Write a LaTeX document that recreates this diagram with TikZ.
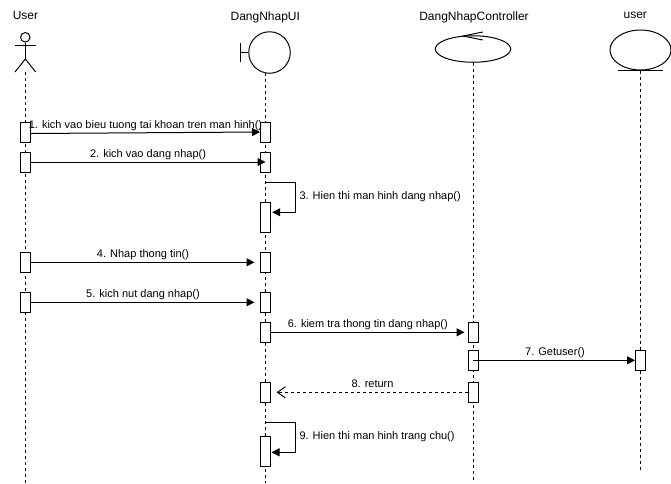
\documentclass[tikz,border=0pt]{standalone}
\usepackage{fontspec}
\setmainfont{Liberation Sans}
\usetikzlibrary{arrows.meta,shapes.geometric}
\begin{document}
\begin{tikzpicture}[x=1pt, y=-1pt, line width=1pt,
    bar/.style={draw, fill=white, rectangle, minimum width=10pt, minimum height=20pt, inner sep=0pt},
    barlong/.style={bar, minimum height=30pt},
    lifeline/.style={dashed, dash pattern=on 3pt off 3pt},
    msg/.style={-{Triangle[length=8pt, width=8pt]}},
    reply/.style={dashed, dash pattern=on 3pt off 3pt, -{Straight Barb[length=8pt, width=11pt]}},
    lbl/.style={font=\fontsize{11}{13}\selectfont, inner sep=0pt, text height=8pt, text depth=2pt},
    title/.style={lbl, font=\fontsize{12}{14}\selectfont},
    ]
    \useasboundingbox (0, 0) rectangle (671, 483);

    % Tieu de
    \node[title] (tUser) at (25.5, 16.5) {User};
    \node[title] (tUI) at (265.3, 17) {DangNhapUI};
    \node[title] (tCtrl) at (474, 17) {DangNhapController};
    \node[title] (tData) at (635.3, 15.5) {user};

    % Lifeline
    \coordinate (endUser) at (25, 483);
    \coordinate (endUI) at (265.5, 483);
    \coordinate (endCtrl) at (473, 480);
    \coordinate (endData) at (640.5, 470);

    % Actor
    \node[draw, circle, minimum size=9.5pt, inner sep=0pt] (head) at (25.3, 37.3) {};
    \coordinate (hip) at (25.3, 59);
    \coordinate (legL) at (15, 72);
    \coordinate (legR) at (35.7, 72);
    \coordinate (armL) at (15, 45.7);
    \coordinate (armR) at (35.7, 45.7);
    \draw (head.south) -- (hip);
    \draw (armL) -- (armR);
    \draw (legL) -- (hip) -- (legR);

    % Boundary
    \node[draw, circle, minimum size=41.5pt, inner sep=0pt] (ui) at (269.5, 52.5) {};
    \coordinate (barT) at (240.3, 42.7);
    \coordinate (barB) at (240.3, 62.3);
    \coordinate (barM) at (240.3, 52.5);
    \draw (barT) -- (barB);
    \draw (barM) -- (ui.west);

    % Control
    \node[draw, ellipse, minimum width=75.5pt, minimum height=26.5pt, inner sep=0pt] (ctrl) at (473, 49) {};
    \coordinate (tipC) at (463.3, 36);
    \coordinate (armA) at (482.7, 32);
    \coordinate (armB) at (482.7, 40);
    \draw (armA) -- (tipC) -- (armB);

    % Entity
    \node[draw, ellipse, minimum width=61pt, minimum height=40pt, inner sep=0pt] (data) at (640.5, 50) {};
    \coordinate (lineL) at (618.3, 70.3);
    \coordinate (lineR) at (662.7, 70.3);
    \draw (lineL) -- (lineR);

    \coordinate (topUser) at (25, 72);
    \coordinate (topUI) at (265.5, 73);
    \draw[lifeline] (topUser) -- (endUser);
    \draw[lifeline] (topUI) -- (endUI);
    \draw[lifeline] (ctrl.south) -- (endCtrl);
    \draw[lifeline] (data.south) -- (endData);

    % Kich hoat
    \node[bar] (u1) at (25.5, 132) {};
    \node[bar] (i1) at (265.5, 132) {};
    \node[bar] (u2) at (25.5, 162) {};
    \node[bar] (i2) at (265.5, 162) {};
    \node[barlong] (i3) at (265.5, 217.3) {};
    \node[bar] (u4) at (25.5, 262.3) {};
    \node[bar] (i4) at (265.5, 262.3) {};
    \node[bar] (u5) at (25.5, 302.3) {};
    \node[bar] (i5) at (265.5, 302.3) {};
    \node[bar] (i6) at (265.5, 332.3) {};
    \node[bar] (c6) at (473, 332.3) {};
    \node[bar] (c7) at (473, 360.3) {};
    \node[bar] (d7) at (640.5, 360.3) {};
    \node[bar] (c8) at (473, 392.3) {};
    \node[bar] (i8) at (265.5, 392.3) {};
    \node[barlong] (i9) at (265.5, 451.3) {};

    % Thong diep
    \draw[msg] ([yshift=-1.5pt]u1.east) -- (i1.west);
    \node[lbl] (m1) at (145.5, 125) {1. kich vao bieu tuong tai khoan tren man hinh()};

    \draw[msg] (u2.east) -- (i2.center);
    \node[lbl] (m2) at (148, 154) {2. kich vao dang nhap()};

    \coordinate (s3) at (265.5, 182);
    \coordinate (s3r) at (295.7, 182);
    \draw[msg] (s3) -- (s3r) |- ([xshift=1.2pt, yshift=5pt]i3.east);
    \node[lbl, anchor=west] (m3) at (299, 196) {3. Hien thi man hinh dang nhap()};

    \draw[msg] (u4.east) -- ([xshift=-5.5pt]i4.west);
    \node[lbl] (m4) at (143, 254) {4. Nhap thong tin()};

    \draw[msg] (u5.east) -- ([xshift=-5.5pt]i5.west);
    \node[lbl] (m5) at (143, 294) {5. kich nut dang nhap()};

    \draw[msg] (i6.east) -- ([xshift=-3pt]c6.west);
    \node[lbl] (m6) at (367.8, 324) {6. kiem tra thong tin dang nhap()};

    \draw[msg] (c7.center) -- (d7.west);
    \node[lbl] (m7) at (555, 352) {7. Getuser()};

    \draw[reply] (c8.west) -- ([xshift=5.5pt]i8.east);
    \node[lbl] (m8) at (372.5, 384) {8. return};

    \coordinate (s9) at (265.5, 422.3);
    \coordinate (s9r) at (295.3, 422.3);
    \draw[msg] (s9) -- (s9r) |- ([yshift=-1pt, xshift=0.5pt]i9.east);
    \node[lbl, anchor=west] (m9) at (299, 436) {9. Hien thi man hinh trang chu()};
\end{tikzpicture}
\end{document}
